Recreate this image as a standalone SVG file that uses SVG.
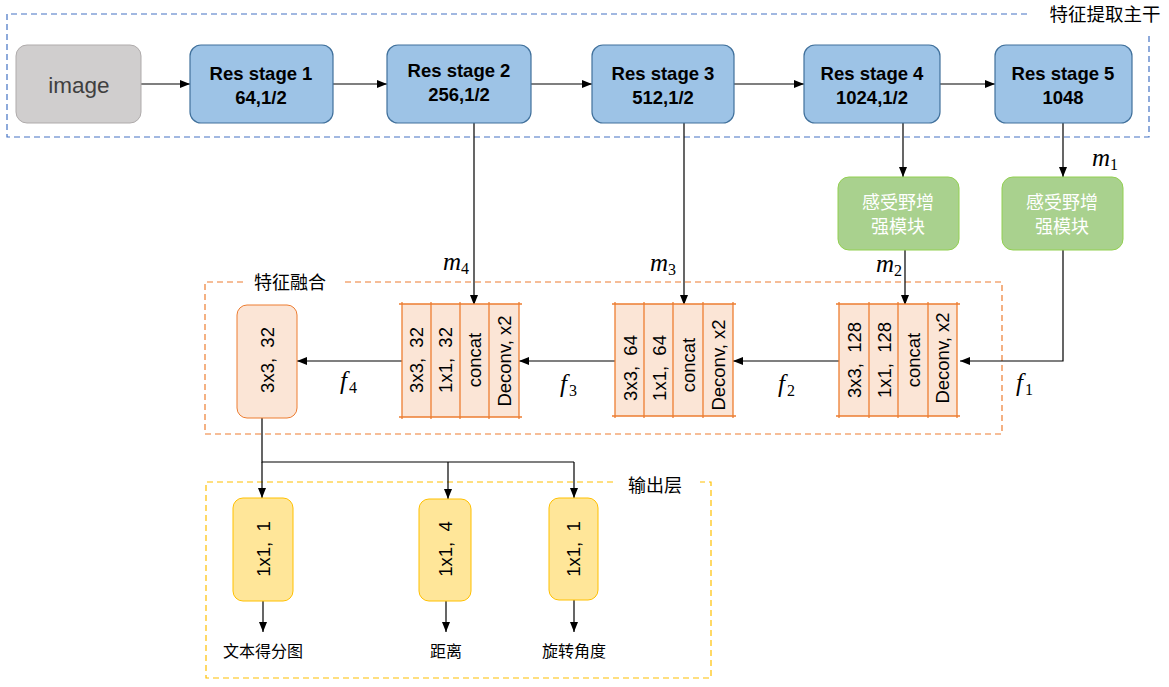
<svg xmlns="http://www.w3.org/2000/svg" width="1169" height="687" viewBox="0 0 1169 687">
<defs>
<marker id="arr" markerUnits="userSpaceOnUse" markerWidth="10" markerHeight="8" refX="10" refY="4" orient="auto"><path d="M0,0 L10,4 L0,8 z" fill="#000"/></marker>
<style>
.lat{font-family:"Liberation Sans",Arial,sans-serif}
.cjk{font-family:"Noto Sans CJK SC",sans-serif}
.math{font-family:"Liberation Serif","DejaVu Serif",serif;font-style:italic;font-size:25px}
.sub{font-style:normal;font-size:16px}
.res rect{fill:#9dc3e6;stroke:#41719c;stroke-width:1.2}
.res text{font-family:"Liberation Sans",Arial,sans-serif;font-weight:bold;font-size:18.5px;text-anchor:middle;fill:#000}
.grn rect{fill:#a9d18e;stroke:#92d050;stroke-width:1}
.grn text{font-family:"Noto Sans CJK SC",sans-serif;font-size:18px;text-anchor:middle;fill:#fff}
.blk rect{fill:#fbe5d6;stroke:none}
.blk line{stroke:#ed7d31;stroke-width:1.3}
.rot{font-family:"Liberation Sans",Arial,sans-serif;font-size:18.5px;text-anchor:middle;dominant-baseline:central;fill:#000}
.yel rect{fill:#ffe699;stroke:#ffc000;stroke-width:1}
.con{stroke:#000;stroke-width:1.2;fill:none}
.lbl{font-family:"Noto Sans CJK SC",sans-serif;font-size:18px;fill:#000}
.out{font-family:"Noto Sans CJK SC",sans-serif;font-size:16px;text-anchor:middle;fill:#000}
</style>
</defs>
<rect width="1169" height="687" fill="#fff"/>

<g id="backbone-frame">
<path d="M1027,14 H7 V137 H1149 V34" fill="none" stroke="#4472c4" stroke-width="1.2" stroke-dasharray="6,4"/>
<text x="1105" y="21" class="cjk" font-size="18.5" text-anchor="middle">特征提取主干</text>
</g>
<g id="fusion-frame">
<path d="M243,282 H205 V434 H1002 V282 H342" fill="none" stroke="#ed7d31" stroke-width="1.2" stroke-dasharray="6,4"/>
<text x="290" y="289" class="lbl" text-anchor="middle">特征融合</text>
</g>
<g id="output-frame">
<path d="M613,482 H206 V678 H711 V482 H700" fill="none" stroke="#ffc000" stroke-width="1.2" stroke-dasharray="6,4"/>
<text x="655" y="492" class="lbl" text-anchor="middle">输出层</text>
</g>

<g id="connectors">
<line class="con" x1="141" y1="84" x2="190" y2="84" marker-end="url(#arr)"/>
<line class="con" x1="333" y1="84" x2="387" y2="84" marker-end="url(#arr)"/>
<line class="con" x1="531" y1="84" x2="592" y2="84" marker-end="url(#arr)"/>
<line class="con" x1="734" y1="84" x2="804" y2="84" marker-end="url(#arr)"/>
<line class="con" x1="940" y1="84" x2="995" y2="84" marker-end="url(#arr)"/>
<line class="con" x1="474" y1="123" x2="474" y2="305" stroke="#7f7f7f" marker-end="url(#arr)"/>
<line class="con" x1="684" y1="123" x2="684" y2="305" marker-end="url(#arr)"/>
<line class="con" x1="903" y1="123" x2="903" y2="177" marker-end="url(#arr)"/>
<line class="con" x1="1063" y1="123" x2="1063" y2="177" marker-end="url(#arr)"/>
<line class="con" x1="905" y1="250" x2="905" y2="305" marker-end="url(#arr)"/>
<polyline class="con" points="1063,250 1063,361 960,361" marker-end="url(#arr)"/>
<line class="con" x1="839" y1="361" x2="733" y2="361" marker-end="url(#arr)"/>
<line class="con" x1="615" y1="361" x2="519" y2="361" marker-end="url(#arr)"/>
<line class="con" x1="402" y1="361" x2="297" y2="361" marker-end="url(#arr)"/>
<polyline class="con" points="262,418 262,462 574,462"/>
<line class="con" x1="262" y1="462" x2="262" y2="498" marker-end="url(#arr)"/>
<line class="con" x1="448" y1="462" x2="448" y2="499" marker-end="url(#arr)"/>
<line class="con" x1="574" y1="462" x2="574" y2="498" marker-end="url(#arr)"/>
<line class="con" x1="263" y1="601" x2="263" y2="632" marker-end="url(#arr)"/>
<line class="con" x1="446" y1="601" x2="446" y2="632" marker-end="url(#arr)"/>
<line class="con" x1="574" y1="600" x2="574" y2="632" marker-end="url(#arr)"/>
</g>

<g id="math-labels">
<text x="1092" y="166" class="math">m<tspan class="sub" dy="4">1</tspan></text>
<text x="876" y="272" class="math">m<tspan class="sub" dy="4">2</tspan></text>
<text x="650" y="271" class="math">m<tspan class="sub" dy="4">3</tspan></text>
<text x="443" y="270" class="math">m<tspan class="sub" dy="4">4</tspan></text>
<text x="1016" y="391" class="math">f<tspan class="sub" dx="2" dy="4">1</tspan></text>
<text x="778" y="392" class="math">f<tspan class="sub" dx="2" dy="4">2</tspan></text>
<text x="560" y="392" class="math">f<tspan class="sub" dx="2" dy="4">3</tspan></text>
<text x="340" y="389" class="math">f<tspan class="sub" dx="2" dy="4">4</tspan></text>
</g>

<g id="image"><rect x="16" y="45" width="125" height="78" rx="11" fill="#d0cece" stroke="#afabab" stroke-width="1"/><text x="79" y="93" class="lat" font-size="22.5" text-anchor="middle" fill="#404040">image</text></g>
<g id="res1" class="res"><rect x="190" y="45" width="143" height="78" rx="11"/><text x="261" y="80">Res stage 1</text><text x="261" y="104">64,1/2</text></g>
<g id="res2" class="res"><rect x="387" y="45" width="144" height="78" rx="11"/><text x="459" y="77">Res stage 2</text><text x="459" y="101">256,1/2</text></g>
<g id="res3" class="res"><rect x="592" y="45" width="142" height="78" rx="11"/><text x="663" y="80">Res stage 3</text><text x="663" y="104">512,1/2</text></g>
<g id="res4" class="res"><rect x="804" y="45" width="136" height="78" rx="11"/><text x="872" y="80">Res stage 4</text><text x="872" y="104">1024,1/2</text></g>
<g id="res5" class="res"><rect x="995" y="45" width="137" height="78" rx="11"/><text x="1063" y="80">Res stage 5</text><text x="1063" y="104">1048</text></g>

<g id="rfe1" class="grn"><rect x="838" y="177" width="121" height="73" rx="11"/><text x="898" y="209">感受野增</text><text x="898" y="233">强模块</text></g>
<g id="rfe2" class="grn"><rect x="1002" y="177" width="121" height="73" rx="11"/><text x="1062" y="209">感受野增</text><text x="1062" y="233">强模块</text></g>

<g id="fuse3" class="blk">
<rect x="839" y="304" width="118" height="112"/>
<line x1="836" y1="304" x2="960" y2="304"/><line x1="836" y1="416" x2="960" y2="416"/>
<line x1="839" y1="302" x2="839" y2="418"/><line x1="869" y1="302" x2="869" y2="418"/><line x1="898" y1="302" x2="898" y2="418"/><line x1="928" y1="302" x2="928" y2="418"/><line x1="957" y1="302" x2="957" y2="418"/>
<text class="rot" transform="translate(854 360) rotate(-90)">3x3,&#160; 128</text>
<text class="rot" transform="translate(884 360) rotate(-90)">1x1,&#160; 128</text>
<text class="rot" transform="translate(913 360) rotate(-90)">concat</text>
<text class="rot" transform="translate(942 358) rotate(-90)">Deconv, x2</text>
</g>
<g id="fuse2" class="blk">
<rect x="615" y="304" width="118" height="112"/>
<line x1="612" y1="304" x2="736" y2="304"/><line x1="612" y1="416" x2="736" y2="416"/>
<line x1="615" y1="302" x2="615" y2="418"/><line x1="644" y1="302" x2="644" y2="418"/><line x1="673" y1="302" x2="673" y2="418"/><line x1="703" y1="302" x2="703" y2="418"/><line x1="733" y1="302" x2="733" y2="418"/>
<text class="rot" transform="translate(630 368) rotate(-90)">3x3,&#160; 64</text>
<text class="rot" transform="translate(659 368) rotate(-90)">1x1,&#160; 64</text>
<text class="rot" transform="translate(688 365) rotate(-90)">concat</text>
<text class="rot" transform="translate(718 365) rotate(-90)">Deconv, x2</text>
</g>
<g id="fuse1" class="blk">
<rect x="402" y="304" width="117" height="113"/>
<line x1="399" y1="304" x2="522" y2="304"/><line x1="399" y1="417" x2="522" y2="417"/>
<line x1="402" y1="302" x2="402" y2="419"/><line x1="431" y1="302" x2="431" y2="419"/><line x1="460" y1="302" x2="460" y2="419"/><line x1="489" y1="302" x2="489" y2="419"/><line x1="519" y1="302" x2="519" y2="419"/>
<text class="rot" transform="translate(416 360) rotate(-90)">3x3,&#160; 32</text>
<text class="rot" transform="translate(445 360) rotate(-90)">1x1,&#160; 32</text>
<text class="rot" transform="translate(474 360) rotate(-90)">concat</text>
<text class="rot" transform="translate(504 361) rotate(-90)">Deconv, x2</text>
</g>
<g id="f4conv"><rect x="237" y="305" width="60" height="113" rx="10" fill="#fbe5d6" stroke="#ed7d31" stroke-width="1"/><text class="rot" transform="translate(267 360) rotate(-90)">3x3,&#160; 32</text></g>

<g id="out1" class="yel"><rect x="233" y="498" width="60" height="103" rx="10"/><text class="rot" transform="translate(263 549) rotate(-90)">1x1,&#160; 1</text></g>
<g id="out2" class="yel"><rect x="419" y="499" width="52" height="102" rx="10"/><text class="rot" transform="translate(445 549) rotate(-90)">1x1,&#160; 4</text></g>
<g id="out3" class="yel"><rect x="549" y="498" width="49" height="102" rx="10"/><text class="rot" transform="translate(573 549) rotate(-90)">1x1,&#160; 1</text></g>

<g id="out-labels">
<text x="263" y="657" class="out">文本得分图</text>
<text x="446" y="657" class="out">距离</text>
<text x="574" y="657" class="out">旋转角度</text>
</g>
</svg>
